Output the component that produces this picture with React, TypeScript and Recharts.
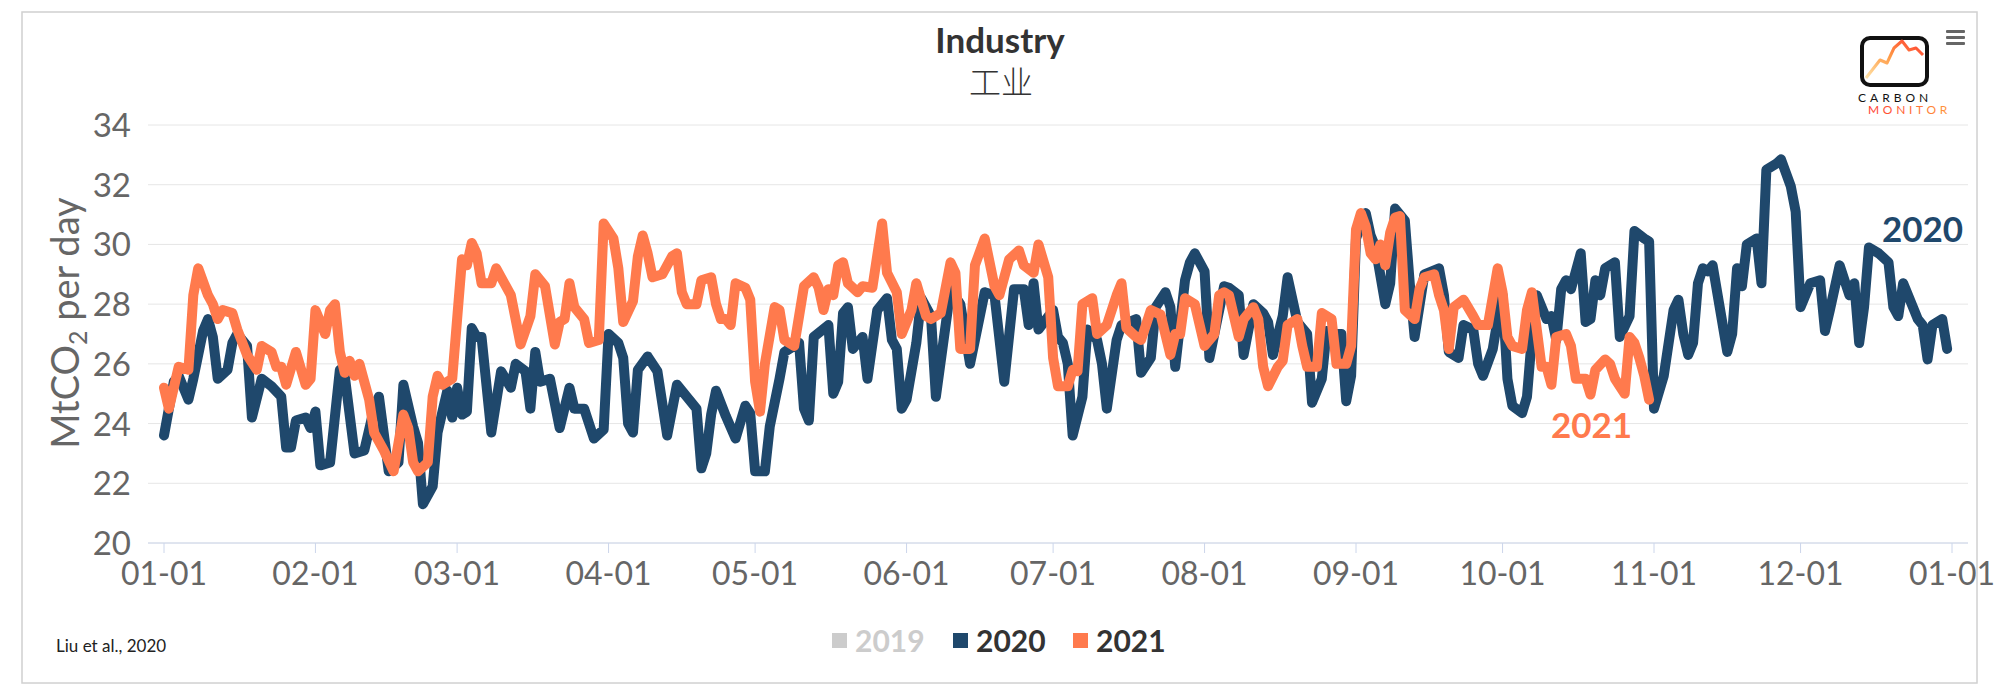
import React from 'react';
import { LineChart, Line, XAxis, YAxis, CartesianGrid } from 'recharts';

const monthTicks = [0, 31, 60, 91, 121, 152, 182, 213, 244, 274, 305, 335, 366];
const monthLabels = ['01-01', '02-01', '03-01', '04-01', '05-01', '06-01', '07-01', '08-01', '09-01', '10-01', '11-01', '12-01', '01-01'];
const yTicks = [20, 22, 24, 26, 28, 30, 32, 34];

const legendItems = [
  { name: '2019', color: '#cccccc', text: '#cccccc' },
  { name: '2020', color: '#1f486c', text: '#333333' },
  { name: '2021', color: '#ff7a4d', text: '#333333' },
];

// [day of year, MtCO2 per day]
const points2020: [number, number][] = [
  [0, 23.6], [2, 25.4], [3, 25.6], [5, 24.8], [6, 25.5], [8, 27.1], [9, 27.5], [10, 26.9], [11, 25.5], [13, 25.8],
  [14, 26.7], [15, 27.0], [17, 26.6], [18, 24.2], [20, 25.5], [22, 25.25], [24, 24.9], [25, 23.2], [26, 23.2], [27, 24.1],
  [29, 24.2], [30, 23.85], [31, 24.4], [32, 22.6], [34, 22.7], [36, 25.8], [37, 25.6], [39, 23.0], [41, 23.1], [43, 24.5],
  [44, 24.9], [46, 22.4], [48, 22.7], [49, 25.3], [51, 23.9], [52, 23.35], [53, 21.3], [55, 21.9], [56, 23.7], [58, 25.1],
  [59, 24.2], [60, 25.2], [61, 24.3], [62, 24.4], [63, 27.2], [64, 26.9], [65, 26.9], [67, 23.7], [69, 25.75], [71, 25.2],
  [72, 26.0], [74, 25.75], [75, 24.5], [76, 26.4], [77, 25.4], [79, 25.5], [81, 23.85], [83, 25.2], [84, 24.5], [86, 24.5],
  [88, 23.5], [90, 23.8], [91, 27.0], [93, 26.7], [94, 26.2], [95, 24.0], [96, 23.7], [97, 25.8], [99, 26.25], [101, 25.75],
  [103, 23.6], [105, 25.3], [107, 24.9], [109, 24.5], [110, 22.5], [111, 23.0], [112, 24.3], [113, 25.1], [115, 24.25], [117, 23.5],
  [119, 24.6], [120, 24.35], [121, 22.4], [123, 22.4], [124, 23.9], [126, 25.5], [127, 26.4], [130, 26.7], [131, 24.5], [132, 24.1],
  [133, 26.9], [136, 27.3], [137, 25.0], [138, 25.4], [139, 27.7], [140, 27.9], [141, 26.5], [143, 26.9], [144, 25.5], [146, 27.8],
  [148, 28.2], [149, 26.8], [150, 26.5], [151, 24.5], [152, 24.8], [154, 26.7], [155, 28.2], [157, 27.6], [158, 24.9], [161, 28.5],
  [163, 28.0], [165, 26.0], [166, 26.8], [168, 28.4], [170, 28.3], [172, 25.4], [174, 28.5], [176, 28.5], [177, 27.3], [178, 28.7],
  [179, 27.15], [182, 27.8], [183, 26.9], [184, 26.7], [185, 26.0], [186, 23.6], [188, 24.9], [189, 27.15], [191, 26.8], [192, 26.0],
  [193, 24.5], [195, 26.8], [196, 27.3], [199, 27.5], [200, 25.7], [202, 26.2], [203, 27.9], [205, 28.4], [206, 27.9], [207, 25.9],
  [209, 28.8], [210, 29.4], [211, 29.7], [213, 29.1], [214, 26.2], [215, 27.0], [217, 28.6], [218, 28.55], [220, 28.3], [221, 26.3],
  [223, 28.0], [225, 27.7], [226, 27.4], [227, 26.3], [229, 27.6], [230, 28.9], [232, 27.4], [234, 27.0], [235, 24.7], [237, 25.5],
  [238, 27.1], [239, 27.0], [241, 27.0], [242, 24.75], [243, 25.6], [244, 30.2], [246, 31.05], [247, 30.3], [248, 29.9], [250, 28.0],
  [251, 28.7], [252, 31.2], [254, 30.8], [255, 28.7], [256, 26.9], [258, 29.0], [261, 29.2], [262, 28.3], [263, 26.4], [265, 26.2],
  [266, 27.3], [268, 27.15], [269, 26.0], [270, 25.6], [272, 26.5], [273, 27.5], [274, 28.3], [275, 25.5], [276, 24.6], [278, 24.35],
  [279, 24.9], [280, 26.9], [281, 28.3], [283, 27.5], [284, 27.6], [285, 26.8], [286, 28.5], [287, 28.8], [288, 28.5], [290, 29.7],
  [291, 27.4], [292, 27.5], [293, 28.8], [294, 28.3], [295, 29.2], [297, 29.4], [298, 26.9], [300, 27.6], [301, 30.45], [303, 30.2],
  [304, 30.1], [305, 24.5], [307, 25.6], [309, 27.8], [310, 28.15], [311, 27.0], [312, 26.3], [313, 26.7], [314, 28.7], [315, 29.2],
  [316, 29.1], [317, 29.3], [320, 26.4], [321, 27.0], [322, 29.2], [323, 28.6], [324, 30.0], [326, 30.2], [327, 28.7], [328, 32.5],
  [330, 32.7], [331, 32.85], [333, 31.95], [334, 31.1], [335, 27.9], [337, 28.7], [339, 28.8], [340, 27.1], [341, 27.8], [343, 29.3],
  [345, 28.3], [346, 28.7], [347, 26.7], [348, 27.9], [349, 29.9], [351, 29.7], [353, 29.4], [354, 27.9], [355, 27.6], [356, 28.7],
  [358, 27.9], [359, 27.5], [360, 27.3], [361, 26.15], [362, 27.3], [364, 27.5], [365, 26.5],
];

const points2021: [number, number][] = [
  [0, 25.2], [1, 24.5], [3, 25.9], [5, 25.8], [6, 28.3], [7, 29.2], [9, 28.3], [10, 28.0], [11, 27.5], [12, 27.8],
  [14, 27.7], [15, 27.15], [17, 26.3], [19, 25.8], [20, 26.6], [22, 26.4], [23, 25.9], [24, 25.9], [25, 25.3], [27, 26.4],
  [29, 25.3], [30, 25.5], [31, 27.8], [33, 27.0], [34, 27.8], [35, 28.0], [36, 26.4], [37, 25.7], [38, 26.1], [39, 25.6],
  [40, 26.0], [42, 24.8], [43, 23.7], [45, 23.1], [47, 22.4], [49, 24.3], [50, 23.85], [51, 22.7], [52, 22.4], [54, 22.7],
  [55, 24.9], [56, 25.6], [57, 25.3], [59, 25.5], [61, 29.5], [62, 29.3], [63, 30.05], [64, 29.7], [65, 28.7], [67, 28.7],
  [68, 29.2], [71, 28.3], [73, 26.65], [75, 27.6], [76, 29.0], [78, 28.6], [80, 26.65], [81, 27.4], [82, 27.5], [83, 28.7],
  [84, 27.9], [86, 27.5], [87, 26.7], [89, 26.8], [90, 30.7], [92, 30.2], [93, 29.2], [94, 27.4], [96, 28.1], [97, 29.6],
  [98, 30.3], [99, 29.7], [100, 28.9], [102, 29.0], [104, 29.6], [105, 29.7], [106, 28.4], [107, 28.0], [109, 28.0], [110, 28.8],
  [112, 28.9], [113, 28.0], [114, 27.5], [115, 27.5], [116, 27.3], [117, 28.7], [119, 28.55], [120, 28.15], [121, 25.4], [122, 24.4],
  [123, 26.0], [125, 27.9], [126, 27.8], [127, 26.8], [129, 26.6], [130, 27.6], [131, 28.6], [133, 28.9], [134, 28.55], [135, 27.8],
  [136, 28.5], [137, 28.3], [138, 29.3], [139, 29.4], [140, 28.7], [142, 28.4], [143, 28.6], [145, 28.55], [147, 30.7], [148, 29.05],
  [150, 28.4], [151, 27.0], [153, 27.8], [154, 28.7], [156, 27.6], [157, 27.5], [159, 27.7], [161, 29.4], [162, 29.05], [163, 26.5],
  [165, 26.5], [166, 29.3], [168, 30.2], [170, 28.6], [171, 28.3], [172, 28.9], [173, 29.5], [175, 29.8], [176, 29.3], [178, 29.05],
  [179, 30.0], [181, 28.9], [182, 26.2], [183, 25.25], [185, 25.25], [186, 25.8], [187, 25.75], [188, 28.0], [190, 28.2], [191, 27.0],
  [193, 27.3], [195, 28.3], [196, 28.7], [197, 27.2], [199, 26.9], [200, 26.8], [202, 27.8], [204, 27.65], [206, 26.3], [207, 27.0],
  [208, 27.0], [209, 28.2], [211, 28.0], [213, 26.6], [215, 27.0], [216, 28.3], [217, 28.4], [218, 28.3], [220, 26.9], [221, 27.5],
  [223, 27.9], [224, 27.5], [225, 25.9], [226, 25.25], [228, 25.9], [229, 26.1], [230, 27.3], [232, 27.5], [233, 26.6], [234, 25.9],
  [236, 25.9], [237, 27.7], [239, 27.5], [240, 26.0], [242, 26.0], [243, 26.6], [244, 30.5], [245, 31.05], [246, 30.6], [247, 29.7],
  [248, 29.5], [249, 30.0], [250, 29.3], [251, 30.4], [252, 30.9], [253, 30.95], [254, 27.8], [256, 27.5], [257, 28.5], [258, 28.9],
  [260, 29.0], [261, 28.3], [262, 27.8], [263, 26.5], [264, 27.9], [266, 28.15], [268, 27.6], [269, 27.3], [271, 27.3], [273, 29.2],
  [274, 28.4], [275, 26.9], [276, 26.6], [278, 26.5], [279, 27.8], [280, 28.4], [281, 27.15], [282, 25.9], [283, 25.9], [284, 25.3],
  [285, 26.9], [287, 27.0], [288, 26.6], [289, 25.5], [291, 25.5], [292, 24.97], [293, 25.8], [295, 26.15], [296, 26.0], [297, 25.5],
  [299, 25.0], [300, 26.9], [301, 26.7], [302, 26.2], [303, 25.6], [304, 24.8],
];

const data2020 = points2020.map(([day, v]) => ({ day, v }));
const data2021 = points2021.map(([day, v]) => ({ day, v }));

const NAVY = '#1f486c';
const ORANGE = '#ff7a4d';
const FONT = 'Lato, "Open Sans", sans-serif';

const XTick = (props: any) => {
  const { x, y, payload } = props;
  const i = monthTicks.indexOf(payload.value);
  return (
    <text x={x} y={y} dy={30} textAnchor="middle" fill="#666" fontSize={32} fontFamily={FONT} fontWeight={400}>
      {monthLabels[i]}
    </text>
  );
};

const YTick = (props: any) => {
  const { x, y, payload } = props;
  return (
    <text x={x} y={y} dy={12} textAnchor="end" fill="#666" fontSize={33} fontFamily={FONT} fontWeight={400}>
      {payload.value}
    </text>
  );
};

const endLabel = (name: string, color: string, last: number, dx: number, dy: number) => (props: any) => {
  const { cx, cy, index } = props;
  if (index !== last) return <g key={`d-${name}-${index}`} />;
  return (
    <text key={`lbl-${name}`} x={cx + dx} y={cy + dy} textAnchor="end" fill={color} fontSize={35} fontWeight={700} fontFamily={FONT}>
      {name}
    </text>
  );
};

export default function App() {
  return (
    <div style={{ position: 'relative', width: 2000, height: 691, background: '#fff', fontFamily: FONT }}>
      <style>{'body{margin:0;}'}</style>
      <LineChart width={2000} height={691} margin={{ top: 125, right: 32, bottom: 88, left: 48 }}>
        <CartesianGrid vertical={false} stroke="#e6e6e6" />
        <XAxis
          type="number"
          dataKey="day"
          domain={[0, 366]}
          ticks={monthTicks}
          padding={{ left: 16, right: 16 }}
          height={60}
          tickSize={10}
          tickMargin={2}
          axisLine={{ stroke: '#ccd6eb' }}
          tickLine={{ stroke: '#ccd6eb' }}
          tick={<XTick />}
          interval={0}
        />
        <YAxis
          type="number"
          domain={[20, 34]}
          ticks={yTicks}
          width={100}
          axisLine={false}
          tickLine={false}
          tickSize={0}
          tickMargin={17}
          tick={<YTick />}
          interval={0}
        />
        <Line
          data={data2020}
          dataKey="v"
          type="linear"
          stroke={NAVY}
          strokeWidth={10}
          strokeLinejoin="round"
          strokeLinecap="round"
          dot={endLabel('2020', NAVY, data2020.length - 1, 16, -107)}
          activeDot={false}
          isAnimationActive={false}
        />
        <Line
          data={data2021}
          dataKey="v"
          type="linear"
          stroke={ORANGE}
          strokeWidth={10}
          strokeLinejoin="round"
          strokeLinecap="round"
          dot={endLabel('2021', ORANGE, data2021.length - 1, -17, 38)}
          activeDot={false}
          isAnimationActive={false}
        />
      </LineChart>
      <svg width={2000} height={691} style={{ position: 'absolute', left: 0, top: 0, pointerEvents: 'none' }}>
        <defs>
          <linearGradient id="logoLine" x1="0" y1="1" x2="1" y2="0">
            <stop offset="0%" stopColor="#ffe3a8" />
            <stop offset="50%" stopColor="#ff9a45" />
            <stop offset="100%" stopColor="#ff3b30" />
          </linearGradient>
          <linearGradient id="logoText" x1="0" y1="0" x2="1" y2="0">
            <stop offset="0%" stopColor="#ff3b30" />
            <stop offset="100%" stopColor="#ff9a3c" />
          </linearGradient>
        </defs>
        <rect x={22} y={12} width={1955} height={671} fill="none" stroke="#d0d0d0" strokeWidth={1.5} />
        <text x={1000} y={53} textAnchor="middle" fontSize={35} fontWeight={700} fill="#333" fontFamily={FONT}>Industry</text>
        <text x={1001} y={94} textAnchor="middle" fontSize={32} fontWeight={300} fill="#333" fontFamily='"Noto Sans CJK SC", sans-serif'>工业</text>
        <text transform="translate(79,323) rotate(-90)" textAnchor="middle" fontSize={38} fill="#666" fontFamily={FONT} fontWeight={400}>
          <tspan>MtCO</tspan>
          <tspan fontSize={25} dy={8}>2</tspan>
          <tspan dy={-8}> per day</tspan>
        </text>
        <text x={56} y={652} fontSize={17} fill="#222" fontFamily={FONT}>Liu et al., 2020</text>
        {legendItems.map((it, i) => {
          const sx = [832, 953, 1073][i];
          return (
            <g key={it.name}>
              <rect x={sx} y={633} width={15} height={15} fill={it.color} />
              <text x={sx + 23} y={652} fontSize={30} fontWeight={700} fill={it.text} fontFamily={FONT}>{it.name}</text>
            </g>
          );
        })}
        <rect x={1862} y={38} width={65} height={47} rx={8} fill="#fff" stroke="#111" strokeWidth={4} />
        <polyline points="1866,78 1880,60 1887,63 1894,48 1902,41 1909,50 1916,48 1923,55" fill="none" stroke="url(#logoLine)" strokeWidth={3} strokeLinejoin="round" />
        <text x={1858} y={102} fontSize={12} letterSpacing={4} fill="#111" fontFamily={FONT}>CARBON</text>
        <text x={1868} y={114} fontSize={12} letterSpacing={3.7} fill="url(#logoText)" fontFamily={FONT}>MONITOR</text>
        <rect x={1946} y={30} width={19} height={3} rx={1} fill="#666" />
        <rect x={1946} y={36} width={19} height={3} rx={1} fill="#666" />
        <rect x={1946} y={42} width={19} height={3} rx={1} fill="#666" />
      </svg>
    </div>
  );
}
